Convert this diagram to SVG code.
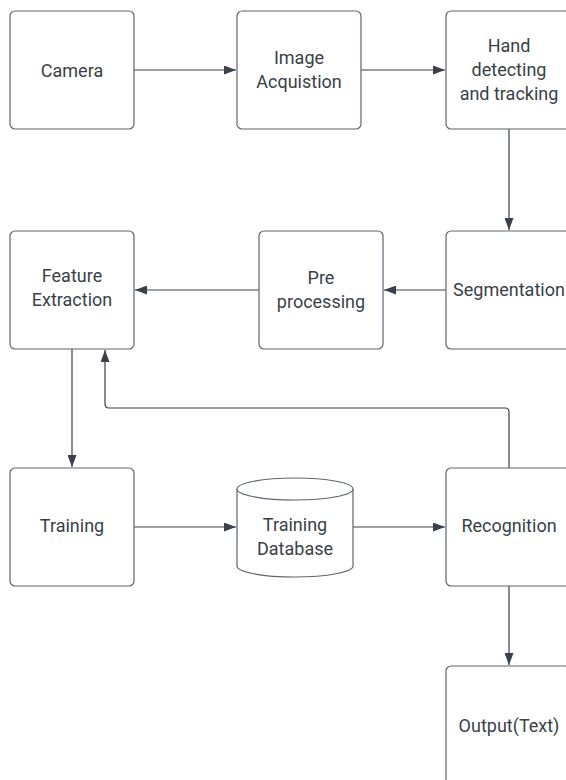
<svg xmlns="http://www.w3.org/2000/svg" width="566" height="780" viewBox="0 0 566 780">
  <style>
    .box { fill: #ffffff; stroke: #5f6670; stroke-width: 1.2; }
    .lbl { font-family: Roboto, "Liberation Sans", sans-serif; font-size: 18px; fill: #3a3f47; text-anchor: middle; dominant-baseline: central; }
    .edge { fill: none; stroke: #3a414a; stroke-width: 1.2; }
  </style>
  <defs>
    <marker id="arrow" viewBox="0 0 12 9" refX="12" refY="4.5" markerWidth="12" markerHeight="9" markerUnits="userSpaceOnUse" orient="auto">
      <path d="M0,0 L12,4.5 L0,9 Z" fill="#3a414a"/>
    </marker>
  </defs>
  <rect width="566" height="780" fill="#ffffff"/>

  <g id="connectors">
    <path class="edge" d="M134,70 H236" marker-end="url(#arrow)"/>
    <path class="edge" d="M361,70 H445" marker-end="url(#arrow)"/>
    <path class="edge" d="M509,129 V230" marker-end="url(#arrow)"/>
    <path class="edge" d="M446,290 H384" marker-end="url(#arrow)"/>
    <path class="edge" d="M259,290 H135" marker-end="url(#arrow)"/>
    <path class="edge" d="M72,349 V467" marker-end="url(#arrow)"/>
    <path class="edge" d="M509,468 V412 Q509,408 505,408 H109 Q105,408 105,404 V350" marker-end="url(#arrow)"/>
    <path class="edge" d="M134,527 H236" marker-end="url(#arrow)"/>
    <path class="edge" d="M353,527 H445" marker-end="url(#arrow)"/>
    <path class="edge" d="M509,586 V665" marker-end="url(#arrow)"/>
  </g>

  <g id="camera">
    <rect class="box" x="10" y="11" width="124" height="118" rx="5"/>
    <text class="lbl" x="72" y="70">Camera</text>
  </g>
  <g id="image-acquisition">
    <rect class="box" x="237" y="11" width="124" height="118" rx="5"/>
    <text class="lbl" x="299" y="57">Image</text>
    <text class="lbl" x="299" y="81">Acquistion</text>
  </g>
  <g id="hand-detecting">
    <rect class="box" x="446" y="11" width="124" height="118" rx="5"/>
    <text class="lbl" x="509" y="45">Hand</text>
    <text class="lbl" x="509" y="69">detecting</text>
    <text class="lbl" x="509" y="93">and tracking</text>
  </g>
  <g id="segmentation">
    <rect class="box" x="446" y="231" width="124" height="118" rx="5"/>
    <text class="lbl" x="509" y="289">Segmentation</text>
  </g>
  <g id="pre-processing">
    <rect class="box" x="259" y="231" width="124" height="118" rx="5"/>
    <text class="lbl" x="321" y="277">Pre</text>
    <text class="lbl" x="321" y="301">processing</text>
  </g>
  <g id="feature-extraction">
    <rect class="box" x="10" y="231" width="124" height="118" rx="5"/>
    <text class="lbl" x="72" y="275">Feature</text>
    <text class="lbl" x="72" y="299">Extraction</text>
  </g>
  <g id="training">
    <rect class="box" x="10" y="468" width="124" height="118" rx="5"/>
    <text class="lbl" x="72" y="525">Training</text>
  </g>
  <g id="training-database">
    <path class="box" d="M237,489 A58,11 0 0 1 353,489 V566 A58,11 0 0 1 237,566 Z"/>
    <path class="box" d="M237,489 A58,11 0 0 0 353,489" fill="none"/>
    <text class="lbl" x="295" y="524">Training</text>
    <text class="lbl" x="295" y="548">Database</text>
  </g>
  <g id="recognition">
    <rect class="box" x="446" y="468" width="124" height="118" rx="5"/>
    <text class="lbl" x="509" y="525">Recognition</text>
  </g>
  <g id="output-text">
    <rect class="box" x="446" y="666" width="124" height="130" rx="5"/>
    <text class="lbl" x="509" y="725">Output(Text)</text>
  </g>
</svg>
